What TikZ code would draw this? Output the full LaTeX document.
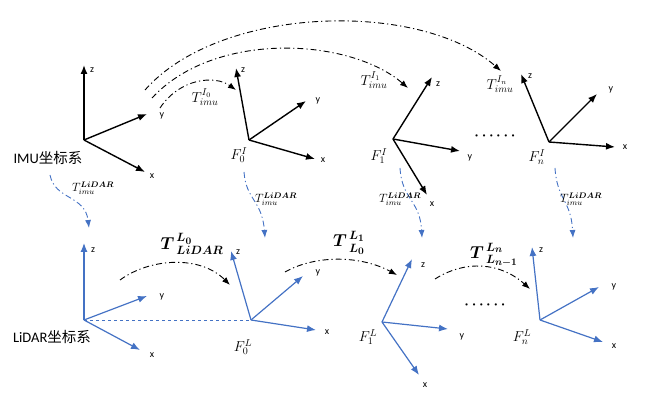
\documentclass[tikz,border=0pt]{standalone}
\usepackage{bm}
\usepackage{fontspec}
\setmainfont{Carlito}
\newfontfamily\cjk{Noto Sans CJK SC}
\usetikzlibrary{arrows.meta}
\definecolor{lblue}{HTML}{4472C4}
\begin{document}
\begin{tikzpicture}[x=1pt,y=-1pt,
  ax/.style={line width=1.4pt,-{Latex[length=9pt,width=7pt]}},
  bax/.style={ax,lblue,line width=1.2pt},
  al/.style={font=\fontsize{10}{11}\selectfont,inner sep=1pt},
  dd/.style={line width=0.9pt,dash pattern=on 6pt off 3pt on 1.2pt off 3pt,-{Latex[length=8pt,width=6pt]}},
  bdd/.style={dd,lblue},
  ml/.style={font=\Large,inner sep=0pt},
  vl/.style={font=\large,inner sep=0pt},
  bl/.style={font=\LARGE\boldmath,inner sep=0pt},
  tl/.style={font=\fontsize{14.5}{15}\selectfont,inner sep=0pt},
  dots/.style={font=\Large,inner sep=0pt}]
\useasboundingbox (0,0) rectangle (656,403);
% IMU frame
\coordinate (o0) at (84,140);
\coordinate (z0) at (84,65); \coordinate (y0) at (147,114); \coordinate (x0) at (145,172);
\draw[ax] (o0)--(z0); \draw[ax] (o0)--(y0); \draw[ax] (o0)--(x0);
\node[al] (lz0) at (92,70) {z}; \node[al] (ly0) at (162,116) {y}; \node[al] (lx0) at (152,176) {x};
\node[tl] (imu) at (48,158) {IMU{\cjk 坐标系}};
% F0I
\coordinate (o1) at (249,140);
\coordinate (z1) at (236,68); \coordinate (y1) at (306,101); \coordinate (x1) at (315,159);
\draw[ax] (o1)--(z1); \draw[ax] (o1)--(y1); \draw[ax] (o1)--(x1);
\node[al] (lz1) at (243,70) {z}; \node[al] (ly1) at (318,101) {y}; \node[al] (lx1) at (323,160) {x};
\node[ml] (F0I) at (239,155) {$F_0^I$};
% F1I
\coordinate (o2) at (393,139);
\coordinate (z2) at (432,77); \coordinate (y2) at (460,151); \coordinate (x2) at (427,195);
\draw[ax] (o2)--(z2); \draw[ax] (o2)--(y2); \draw[ax] (o2)--(x2);
\node[al] (lz2) at (438,84) {z}; \node[al] (ly2) at (470,158) {y}; \node[al] (lx2) at (432,204) {x};
\node[ml] (F1I) at (379,156) {$F_1^I$};
\node[dots] (dI) at (495,136) {$\bm{\cdots\cdots}$};
% FnI
\coordinate (o3) at (549,142);
\coordinate (z3) at (521,74); \coordinate (y3) at (597,94); \coordinate (x3) at (615,147);
\draw[ax] (o3)--(z3); \draw[ax] (o3)--(y3); \draw[ax] (o3)--(x3);
\node[al] (lz3) at (530,76) {z}; \node[al] (ly3) at (611,90) {y}; \node[al] (lx3) at (625,147) {x};
\node[ml] (FnI) at (537,157) {$F_n^I$};
% IMU arcs
\coordinate (s1) at (145,90); \coordinate (e1) at (501,71);
\coordinate (s2) at (152,98); \coordinate (e2) at (408,88);
\coordinate (s3) at (160,108); \coordinate (e3) at (236,90);
\draw[dd] (s1) .. controls (220,5) and (420,0) .. (e1);
\draw[dd] (s2) .. controls (215,30) and (350,38) .. (e2);
\draw[dd] (s3) .. controls (180,78) and (215,75) .. (e3);
\node[ml] (t0) at (205,97) {$T_{imu}^{I_0}$};
\node[ml] (t1) at (374,80) {$T_{imu}^{I_1}$};
\node[ml] (tn) at (500,84) {$T_{imu}^{I_n}$};
% LiDAR frame
\coordinate (p0) at (84,320);
\coordinate (bz0) at (84,243); \coordinate (by0) at (147,296); \coordinate (bx0) at (140,350);
\draw[bax] (p0)--(bz0); \draw[bax] (p0)--(by0); \draw[bax] (p0)--(bx0);
\node[al] (mz0) at (93,250) {z}; \node[al] (my0) at (162,297) {y}; \node[al] (mx0) at (152,355) {x};
\node[tl] (lid) at (52,337) {LiDAR{\cjk 坐标系}};
% F0L
\coordinate (p1) at (251,320);
\coordinate (bz1) at (231,251); \coordinate (by1) at (303,276); \coordinate (bx1) at (316,330);
\draw[bax] (p1)--(bz1); \draw[bax] (p1)--(by1); \draw[bax] (p1)--(bx1);
\node[al] (mz1) at (238,252) {z}; \node[al] (my1) at (318,273) {y}; \node[al] (mx1) at (327,332) {x};
\node[ml] (F0L) at (243,347) {$F_0^L$};
\draw[lblue,dashed,line width=0.7pt] (p0)--(p1);
% F1L
\coordinate (p2) at (382,322);
\coordinate (bz2) at (412,259); \coordinate (by2) at (448,329); \coordinate (bx2) at (419,375);
\draw[bax] (p2)--(bz2); \draw[bax] (p2)--(by2); \draw[bax] (p2)--(bx2);
\node[al] (mz2) at (423,265) {z}; \node[al] (my2) at (462,337) {y}; \node[al] (mx2) at (425,385) {x};
\node[ml] (F1L) at (368,337) {$F_1^L$};
\node[dots] (dL) at (485,305) {$\bm{\cdots\cdots}$};
% FnL
\coordinate (p3) at (540,320);
\coordinate (bz3) at (532,247); \coordinate (by3) at (599,287); \coordinate (bx3) at (603,342);
\draw[bax] (p3)--(bz3); \draw[bax] (p3)--(by3); \draw[bax] (p3)--(bx3);
\node[al] (mz3) at (541,250) {z}; \node[al] (my3) at (614,287) {y}; \node[al] (mx3) at (614,346) {x};
\node[ml] (FnL) at (522,337) {$F_n^L$};
% LiDAR arcs
\coordinate (ls0) at (120,280); \coordinate (le0) at (230,285);
\coordinate (ls1) at (285,272); \coordinate (le1) at (397,275);
\coordinate (ls2) at (435,279); \coordinate (le2) at (530,289);
\draw[dd] (ls0) .. controls (150,258) and (200,255) .. (le0);
\draw[dd] (ls1) .. controls (315,255) and (360,255) .. (le1);
\draw[dd] (ls2) .. controls (465,260) and (500,262) .. (le2);
\node[bl] (u0) at (192,244) {${T\mkern2mu}^{L_0}_{LiDAR}$};
\node[bl] (u1) at (349,243) {${T\mkern2mu}^{L_1}_{L_0}$};
\node[bl] (u2) at (494,255) {${T\mkern2mu}^{L_n}_{L_{n-1}}$};
% blue vertical arrows
\coordinate (vs0) at (50,175); \coordinate (ve0) at (89,228);
\coordinate (vs1) at (244,172); \coordinate (ve1) at (265,238);
\coordinate (vs2) at (400,168); \coordinate (ve2) at (422,238);
\coordinate (vs3) at (555,168); \coordinate (ve3) at (573,238);
\draw[bdd] (vs0) .. controls (55,200) and (85,195) .. (ve0);
\draw[bdd] (vs1) .. controls (246,200) and (262,200) .. (ve1);
\draw[bdd] (vs2) .. controls (402,200) and (420,200) .. (ve2);
\draw[bdd] (vs3) .. controls (557,200) and (571,200) .. (ve3);
\node[vl] (v0) at (93,188) {$T_{imu}^{\bm{LiDAR}}$};
\node[vl] (v1) at (276,199) {$T_{imu}^{\bm{LiDAR}}$};
\node[vl] (v2) at (400,199) {$T_{imu}^{\bm{LiDAR}}$};
\node[vl] (v3) at (581,199) {$T_{imu}^{\bm{LiDAR}}$};
\end{tikzpicture}
\end{document}
